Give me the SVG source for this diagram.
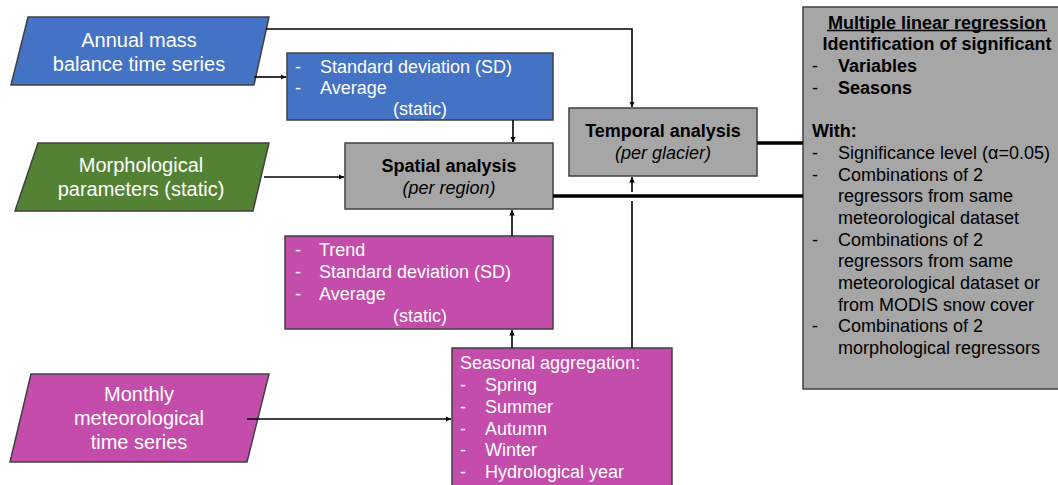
<svg xmlns="http://www.w3.org/2000/svg" width="1058" height="485" viewBox="0 0 1058 485">
<style>
.t{font-family:"Liberation Sans",Arial,sans-serif;font-size:18px;fill:#000}
.w{font-family:"Liberation Sans",Arial,sans-serif;font-size:18px;fill:#fff}
.p{font-family:"Liberation Sans",Arial,sans-serif;font-size:20px;fill:#fff;text-anchor:middle}
.b{font-weight:bold}
.i{font-style:italic}
.m{text-anchor:middle}
.box{stroke:#404040;stroke-width:1.5}
.blue{fill:#4472C4}
.green{fill:#548235}
.mag{fill:#C44DAC}
.gray{fill:#A6A6A6}
.c{fill:none;stroke:#000;stroke-width:1.6}
.k{fill:none;stroke:#000;stroke-width:3.5}
</style>
<defs>
<marker id="ah" viewBox="0 0 10 10" refX="10" refY="5" markerWidth="5.5" markerHeight="5.5" orient="auto" markerUnits="userSpaceOnUse">
<path d="M0,0 L10,5 L0,10 z" fill="#000"/>
</marker>
</defs>
<rect width="1058" height="485" fill="#fff"/>

<g id="annual">
<polygon class="box blue" points="28,17 269,17 254,85 11,85"/>
<text class="p" x="139" y="47">Annual mass</text>
<text class="p" x="139" y="71">balance time series</text>
</g>

<g id="morph">
<polygon class="box green" points="38,143 269,143 253,211 15,211"/>
<text class="p" x="141" y="172">Morphological</text>
<text class="p" x="141" y="196">parameters (static)</text>
</g>

<g id="monthly">
<polygon class="box mag" points="31,374 269,374 247,462 10,462"/>
<text class="p" x="139" y="401">Monthly</text>
<text class="p" x="139" y="425">meteorological</text>
<text class="p" x="139" y="449">time series</text>
</g>

<g id="stats-mb">
<rect class="box blue" x="287" y="53" width="266" height="67"/>
<text class="w" x="295" y="73">-</text>
<text class="w" x="320" y="73">Standard deviation (SD)</text>
<text class="w" x="295" y="94">-</text>
<text class="w" x="320" y="94">Average</text>
<text class="w m" x="420" y="115">(static)</text>
</g>

<g id="spatial">
<rect class="box gray" x="345" y="143" width="208" height="66"/>
<text class="t b m" x="449" y="172">Spatial analysis</text>
<text class="t i m" x="449" y="194">(per region)</text>
</g>

<g id="temporal">
<rect class="box gray" x="569" y="108" width="188" height="68"/>
<text class="t b m" x="663" y="137">Temporal analysis</text>
<text class="t i m" x="663" y="159">(per glacier)</text>
</g>

<g id="stats-met">
<rect class="box mag" x="285" y="236" width="268" height="93"/>
<text class="w" x="295" y="256">-</text>
<text class="w" x="319" y="256">Trend</text>
<text class="w" x="295" y="278">-</text>
<text class="w" x="319" y="278">Standard deviation (SD)</text>
<text class="w" x="295" y="300">-</text>
<text class="w" x="319" y="300">Average</text>
<text class="w m" x="420" y="322">(static)</text>
</g>

<g id="seasonal">
<rect class="box mag" x="452" y="348" width="220" height="145"/>
<text class="w" x="460" y="369">Seasonal aggregation:</text>
<text class="w" x="460" y="391">-</text>
<text class="w" x="485" y="391">Spring</text>
<text class="w" x="460" y="413">-</text>
<text class="w" x="485" y="413">Summer</text>
<text class="w" x="460" y="435">-</text>
<text class="w" x="485" y="435">Autumn</text>
<text class="w" x="460" y="456">-</text>
<text class="w" x="485" y="456">Winter</text>
<text class="w" x="460" y="478">-</text>
<text class="w" x="485" y="478">Hydrological year</text>
</g>

<g id="mlr">
<rect class="box gray" x="803" y="7" width="270" height="382"/>
<text class="t b m" x="937" y="28.5">Multiple linear regression</text>
<line x1="827" y1="30.5" x2="1047" y2="30.5" stroke="#000" stroke-width="1.3"/>
<text class="t b m" x="937" y="50">Identification of significant</text>
<text class="t" x="812" y="72">-</text>
<text class="t b" x="838" y="72">Variables</text>
<text class="t" x="812" y="93.5">-</text>
<text class="t b" x="838" y="93.5">Seasons</text>
<text class="t b" x="812" y="137">With:</text>
<text class="t" x="812" y="159">-</text>
<text class="t" x="838" y="159">Significance level (α=0.05)</text>
<text class="t" x="812" y="180.5">-</text>
<text class="t" x="838" y="180.5">Combinations of 2</text>
<text class="t" x="838" y="202">regressors from same</text>
<text class="t" x="838" y="224">meteorological dataset</text>
<text class="t" x="812" y="245.5">-</text>
<text class="t" x="838" y="245.5">Combinations of 2</text>
<text class="t" x="838" y="267">regressors from same</text>
<text class="t" x="838" y="289">meteorological dataset or</text>
<text class="t" x="838" y="310.5">from MODIS snow cover</text>
<text class="t" x="812" y="332">-</text>
<text class="t" x="838" y="332">Combinations of 2</text>
<text class="t" x="838" y="354">morphological regressors</text>
</g>

<g id="connectors">
<polyline class="c" points="266,29 632,29 632,107" marker-end="url(#ah)"/>
<line class="c" x1="254" y1="77" x2="286" y2="77" marker-end="url(#ah)"/>
<line class="c" x1="513" y1="120" x2="513" y2="142" marker-end="url(#ah)"/>
<line class="c" x1="264" y1="177" x2="344" y2="177" marker-end="url(#ah)"/>
<line class="c" x1="512" y1="236" x2="512" y2="210" marker-end="url(#ah)"/>
<line class="c" x1="512" y1="348" x2="512" y2="330" marker-end="url(#ah)"/>
<line class="c" x1="247" y1="419" x2="451" y2="419" marker-end="url(#ah)"/>
<line class="c" x1="632" y1="348" x2="632" y2="201"/>
<line class="c" x1="632" y1="192" x2="632" y2="177" marker-end="url(#ah)"/>
<line class="k" x1="553" y1="196" x2="803" y2="196"/>
<line class="k" x1="757" y1="143" x2="803" y2="143"/>
</g>
</svg>
